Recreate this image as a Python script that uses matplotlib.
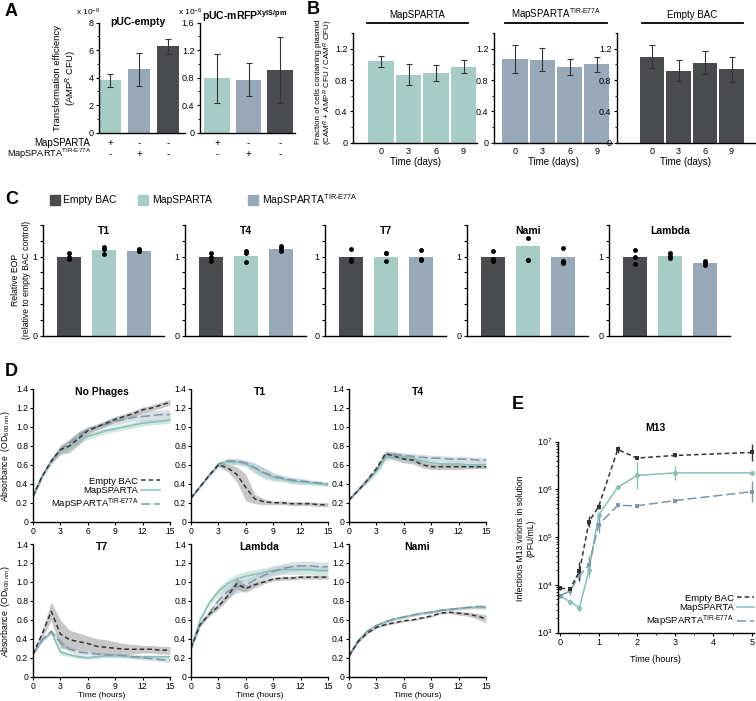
import matplotlib
matplotlib.use("Agg")
import matplotlib.pyplot as plt
import matplotlib.transforms as mtransforms
import numpy as np
from matplotlib.lines import Line2D
from matplotlib.patches import Rectangle
from matplotlib.ticker import LogLocator, MultipleLocator, NullFormatter

W, H = 756, 701

plt.rcParams["font.family"] = ["Liberation Sans", "DejaVu Sans"]
plt.rcParams["font.size"] = 6.5
plt.rcParams["mathtext.fontset"] = "custom"
plt.rcParams["mathtext.rm"] = "Liberation Sans"
plt.rcParams["mathtext.it"] = "Liberation Sans:italic"
plt.rcParams["mathtext.bf"] = "Liberation Sans:bold"
plt.rcParams["axes.linewidth"] = 1.0

TEAL = "#a7ccc6"
SLATE = "#97a9b8"
DARK = "#4a4b4e"
LINE_TEAL = "#86c0b6"
LINE_SLATE = "#7d96ab"
LINE_DARK = "#333333"
ERR = "#333333"
TIR = "MapSPARTA$^{\\mathrm{TIR\u2010E77A}}$"

# ---------- panel A: transformation efficiency (x 1e-6) ----------
A_EMPTY_VALS = [3.8, 4.6, 6.3]
A_EMPTY_ERR = [0.45, 1.2, 0.55]
A_MRFP_VALS = [0.79, 0.77, 0.91]
A_MRFP_ERR = [0.36, 0.24, 0.48]
A_MAP_ROW = ["+", "-", "-"]
A_TIR_ROW = ["-", "+", "-"]

# ---------- panel B: plasmid retention ----------
B_DAYS = ["0", "3", "6", "9"]
B_MAP_VALS = [1.04, 0.87, 0.89, 0.97]
B_MAP_ERR = [0.07, 0.135, 0.10, 0.08]
B_TIR_VALS = [1.07, 1.06, 0.97, 1.00]
B_TIR_ERR = [0.18, 0.15, 0.10, 0.10]
B_EMPTY_VALS = [1.10, 0.92, 1.02, 0.94]
B_EMPTY_ERR = [0.15, 0.135, 0.145, 0.16]

# ---------- panel C: relative EOP ----------
C_PHAGES = ["T1", "T4", "T7", "Nami", "Lambda"]
C_EMPTY_BAR = [1.0, 1.0, 1.0, 1.0, 1.0]
C_MAP_BAR = [1.085, 1.01, 1.0, 1.14, 1.01]
C_TIR_BAR = [1.073, 1.10, 1.0, 1.0, 0.92]
C_EMPTY_DOTS = [[1.047, 1.0, 0.97], [1.04, 1.0, 0.94], [1.10, 0.97, 0.94],
                [1.07, 0.97, 0.95], [1.09, 1.0, 0.91]]
C_MAP_DOTS = [[1.128, 1.098, 1.03], [1.07, 1.04, 0.93], [1.05, 1.04, 0.95],
              [1.24, 0.96, 0.955], [1.05, 1.01, 0.98]]
C_TIR_DOTS = [[1.094, 1.077, 1.07], [1.14, 1.11, 1.07], [1.09, 0.97, 0.96],
              [1.11, 0.94, 0.92], [0.95, 0.93, 0.90]]

# ---------- panel D: growth curves (OD600), hourly ----------
D_TIME = [0, 1, 2, 3, 4, 5, 6, 7, 8, 9, 10, 11, 12, 13, 14, 15]

NOPH_EMPTY = [0.27, 0.48, 0.64, 0.76, 0.80, 0.88, 0.96, 1.00, 1.04, 1.08, 1.11, 1.14, 1.18, 1.20, 1.23, 1.26]
NOPH_EMPTY_SD = [0.02, 0.02, 0.03, 0.05, 0.07, 0.07, 0.04, 0.03, 0.03, 0.03, 0.03, 0.03, 0.03, 0.03, 0.03, 0.03]
NOPH_MAP = [0.27, 0.48, 0.64, 0.75, 0.79, 0.85, 0.90, 0.93, 0.96, 0.98, 1.00, 1.02, 1.04, 1.05, 1.06, 1.07]
NOPH_MAP_SD = [0.02, 0.02, 0.02, 0.03, 0.03, 0.03, 0.03, 0.03, 0.03, 0.03, 0.03, 0.03, 0.03, 0.03, 0.03, 0.03]
NOPH_TIR = [0.27, 0.48, 0.64, 0.76, 0.83, 0.91, 0.97, 1.00, 1.03, 1.06, 1.08, 1.10, 1.11, 1.12, 1.13, 1.13]
NOPH_TIR_SD = [0.02, 0.02, 0.02, 0.03, 0.04, 0.04, 0.03, 0.03, 0.03, 0.04, 0.04, 0.04, 0.05, 0.05, 0.05, 0.05]

T1_EMPTY = [0.25, 0.37, 0.49, 0.60, 0.57, 0.50, 0.36, 0.24, 0.21, 0.20, 0.20, 0.19, 0.19, 0.19, 0.18, 0.18]
T1_EMPTY_SD = [0.01, 0.01, 0.01, 0.02, 0.04, 0.08, 0.14, 0.05, 0.03, 0.02, 0.02, 0.02, 0.02, 0.02, 0.02, 0.02]
T1_MAP = [0.25, 0.37, 0.49, 0.60, 0.63, 0.63, 0.61, 0.56, 0.51, 0.47, 0.45, 0.43, 0.42, 0.41, 0.40, 0.39]
T1_MAP_SD = [0.01, 0.01, 0.01, 0.02, 0.03, 0.03, 0.03, 0.05, 0.06, 0.04, 0.03, 0.03, 0.03, 0.02, 0.02, 0.02]
T1_TIR = [0.25, 0.37, 0.49, 0.61, 0.64, 0.64, 0.62, 0.57, 0.52, 0.48, 0.46, 0.44, 0.43, 0.42, 0.41, 0.40]
T1_TIR_SD = [0.01, 0.01, 0.01, 0.02, 0.03, 0.03, 0.03, 0.05, 0.05, 0.04, 0.03, 0.03, 0.03, 0.02, 0.02, 0.02]

T4_EMPTY = [0.23, 0.33, 0.44, 0.56, 0.72, 0.69, 0.66, 0.65, 0.60, 0.58, 0.58, 0.58, 0.58, 0.58, 0.58, 0.58]
T4_EMPTY_SD = [0.01, 0.01, 0.02, 0.02, 0.03, 0.04, 0.04, 0.04, 0.03, 0.03, 0.03, 0.03, 0.03, 0.02, 0.02, 0.02]
T4_MAP = [0.23, 0.33, 0.43, 0.53, 0.67, 0.69, 0.68, 0.66, 0.64, 0.62, 0.61, 0.61, 0.61, 0.60, 0.60, 0.60]
T4_MAP_SD = [0.01, 0.01, 0.02, 0.03, 0.03, 0.03, 0.03, 0.03, 0.03, 0.03, 0.03, 0.03, 0.03, 0.03, 0.03, 0.03]
T4_TIR = [0.23, 0.33, 0.44, 0.55, 0.70, 0.71, 0.70, 0.69, 0.68, 0.67, 0.67, 0.66, 0.66, 0.66, 0.65, 0.65]
T4_TIR_SD = [0.01, 0.01, 0.02, 0.02, 0.03, 0.03, 0.03, 0.03, 0.03, 0.03, 0.03, 0.03, 0.03, 0.03, 0.03, 0.03]

T7_EMPTY = [0.24, 0.45, 0.69, 0.45, 0.39, 0.37, 0.35, 0.32, 0.31, 0.30, 0.29, 0.29, 0.29, 0.29, 0.28, 0.28]
T7_EMPTY_SD = [0.01, 0.04, 0.10, 0.15, 0.10, 0.09, 0.08, 0.08, 0.08, 0.07, 0.06, 0.05, 0.04, 0.04, 0.04, 0.04]
T7_MAP = [0.24, 0.38, 0.47, 0.26, 0.23, 0.21, 0.20, 0.21, 0.22, 0.22, 0.22, 0.21, 0.21, 0.21, 0.21, 0.21]
T7_MAP_SD = [0.01, 0.02, 0.02, 0.03, 0.02, 0.02, 0.02, 0.02, 0.02, 0.02, 0.02, 0.02, 0.02, 0.02, 0.02, 0.02]
T7_TIR = [0.24, 0.39, 0.48, 0.36, 0.29, 0.26, 0.25, 0.24, 0.23, 0.23, 0.22, 0.21, 0.20, 0.19, 0.18, 0.17]
T7_TIR_SD = [0.01, 0.02, 0.02, 0.04, 0.03, 0.03, 0.02, 0.02, 0.02, 0.02, 0.02, 0.02, 0.02, 0.02, 0.02, 0.02]

LAM_EMPTY = [0.30, 0.55, 0.66, 0.74, 0.85, 0.98, 0.93, 0.97, 1.00, 1.03, 1.04, 1.04, 1.05, 1.05, 1.05, 1.05]
LAM_EMPTY_SD = [0.01, 0.02, 0.02, 0.03, 0.04, 0.06, 0.04, 0.03, 0.02, 0.02, 0.02, 0.02, 0.02, 0.02, 0.02, 0.02]
LAM_MAP = [0.30, 0.60, 0.78, 0.90, 0.98, 1.03, 1.06, 1.08, 1.10, 1.12, 1.13, 1.13, 1.13, 1.13, 1.12, 1.12]
LAM_MAP_SD = [0.01, 0.02, 0.03, 0.04, 0.05, 0.05, 0.05, 0.05, 0.05, 0.05, 0.05, 0.05, 0.05, 0.05, 0.05, 0.05]
LAM_TIR = [0.30, 0.55, 0.67, 0.80, 0.90, 0.95, 0.97, 1.02, 1.07, 1.11, 1.14, 1.16, 1.17, 1.17, 1.16, 1.16]
LAM_TIR_SD = [0.01, 0.02, 0.03, 0.05, 0.07, 0.07, 0.06, 0.05, 0.05, 0.05, 0.05, 0.05, 0.05, 0.05, 0.05, 0.05]

NAMI_EMPTY = [0.22, 0.37, 0.46, 0.52, 0.55, 0.57, 0.59, 0.60, 0.62, 0.64, 0.67, 0.68, 0.67, 0.66, 0.64, 0.61]
NAMI_EMPTY_SD = [0.01, 0.01, 0.01, 0.01, 0.01, 0.01, 0.01, 0.01, 0.01, 0.01, 0.01, 0.01, 0.02, 0.02, 0.03, 0.04]
NAMI_MAP = [0.22, 0.38, 0.48, 0.54, 0.58, 0.61, 0.63, 0.65, 0.67, 0.68, 0.70, 0.71, 0.72, 0.73, 0.73, 0.73]
NAMI_MAP_SD = [0.015, 0.015, 0.015, 0.015, 0.015, 0.015, 0.015, 0.015, 0.015, 0.015, 0.015, 0.015, 0.015, 0.015, 0.015, 0.015]
NAMI_TIR = [0.22, 0.38, 0.48, 0.54, 0.58, 0.61, 0.63, 0.65, 0.67, 0.68, 0.70, 0.71, 0.72, 0.73, 0.74, 0.74]
NAMI_TIR_SD = [0.015, 0.015, 0.015, 0.015, 0.015, 0.015, 0.015, 0.015, 0.015, 0.015, 0.015, 0.015, 0.015, 0.015, 0.015, 0.015]

D_TITLES = ["No Phages", "T1", "T4", "T7", "Lambda", "Nami"]

# ---------- panel E: M13 titres (PFU/mL), error as log10 half-width ----------
E_TIME = [0, 0.25, 0.5, 0.75, 1, 1.5, 2, 3, 5]
E_EMPTY = [8.5e3, 8.1e3, 1.9e4, 2.1e5, 4.3e5, 6.8e6, 4.5e6, 5.1e6, 5.9e6]
E_EMPTY_ERR = [0.04, 0.04, 0.20, 0.12, 0.04, 0.07, 0.03, 0.03, 0.17]
E_MAP = [5.9e3, 4.4e3, 3.3e3, 2.0e4, 2.9e5, 1.1e6, 1.95e6, 2.2e6, 2.2e6]
E_MAP_ERR = [0.03, 0.06, 0.06, 0.13, 0.07, 0.02, 0.28, 0.15, 0.05]
E_TIR = [5.9e3, 7.4e3, 1.55e4, 2.6e4, 1.8e5, 4.6e5, 4.5e5, 5.8e5, 8.9e5]
E_TIR_ERR = [0.03, 0.08, 0.10, 0.19, 0.18, 0.03, 0.04, 0.02, 0.22]


fig = plt.figure(figsize=(W / 100, H / 100), dpi=100)


def px_ax(l, t, r, b):
    return fig.add_axes([l / W, 1 - b / H, (r - l) / W, (b - t) / H])


def ftext(x, y, s, **kw):
    kw.setdefault("ha", "center")
    kw.setdefault("va", "center")
    return fig.text(x / W, 1 - y / H, s, **kw)


def clean(ax):
    ax.spines["top"].set_visible(False)
    ax.spines["right"].set_visible(False)
    ax.tick_params(length=2.5, width=0.8, pad=1.5, labelsize=6.5)
    ax.tick_params(which="minor", length=1.5, width=0.6)


def bar_xlim(ax, left, right, c0, step):
    ax.set_xlim((left - c0) / step, (right - c0) / step)


# ---------- A ----------
ftext(5, 12, "A", ha="left", fontsize=13, fontweight="bold")
a_panels = [
    (99, 185, 110, 29, 0.76, A_EMPTY_VALS, A_EMPTY_ERR, 8, 2, "pUC-empty", (138, 22), 88),
    (200, 295, 217, 31.5, 0.82, A_MRFP_VALS, A_MRFP_ERR, 1.6, 0.4,
     r"pUC-mRFP$^{\mathbf{XylS/pm}}$", (245, 16), 190),
]
for l, r, c0, step, bw, vals, errs, top, major, title, tpos, expx in a_panels:
    ax = px_ax(l, 22.7, r, 132.7)
    clean(ax)
    x = np.arange(len(vals))
    ax.bar(x, vals, width=bw, color=[TEAL, SLATE, DARK])
    ax.errorbar(x, vals, yerr=errs, fmt="none", ecolor=ERR, elinewidth=0.8, capsize=2, capthick=0.8)
    ax.set_ylim(0, top)
    ticks = np.arange(0, top + major / 2, major)
    ax.set_yticks(ticks)
    ax.set_yticklabels(["0"] + [f"{t:g}" for t in ticks[1:]])
    ax.yaxis.set_minor_locator(MultipleLocator(major / 2))
    ax.set_xticks([])
    bar_xlim(ax, l, r, c0, step)
    ftext(tpos[0], tpos[1], title, fontsize=7.5, fontweight="bold")
    ftext(expx, 12, r"x 10$^{-6}$", fontsize=6)
    tr = mtransforms.blended_transform_factory(ax.transData, fig.transFigure)
    for i in x:
        ax.text(i, 1 - 142.7 / H, A_MAP_ROW[i], transform=tr, ha="center", va="center", fontsize=7)
        ax.text(i, 1 - 154 / H, A_TIR_ROW[i], transform=tr, ha="center", va="center", fontsize=7)
ftext(90, 142.7, "MapSPARTA", ha="right", fontsize=7)
ftext(91, 154, TIR, ha="right", fontsize=6.6)
ftext(66, 78, "Transformation efficiency\n(AMP$^R$ CFU)", rotation=90, fontsize=6.8, linespacing=1.1)

# ---------- B ----------
ftext(307, 10, "B", ha="left", fontsize=13, fontweight="bold")
b_panels = [
    (353, 477, 381, 27.5, B_MAP_VALS, B_MAP_ERR, TEAL, "MapSPARTA", (367, 468)),
    (494, 612, 515, 27.3, B_TIR_VALS, B_TIR_ERR, SLATE, TIR, (505, 607)),
    (617, 755, 652, 26.5, B_EMPTY_VALS, B_EMPTY_ERR, DARK, "Empty BAC", (642, 743)),
]
for l, r, c0, step, vals, errs, col, title, (hl, hr) in b_panels:
    ax = px_ax(l, 33, r, 142.7)
    clean(ax)
    x = np.arange(len(vals))
    ax.bar(x, vals, width=0.92, color=col)
    ax.errorbar(x, vals, yerr=errs, fmt="none", ecolor=ERR, elinewidth=0.8, capsize=2, capthick=0.8)
    ax.set_ylim(0, 1.4)
    ax.set_yticks([0, 0.4, 0.8, 1.2])
    ax.set_yticklabels(["0", "0.4", "0.8", "1.2"])
    ax.yaxis.set_minor_locator(MultipleLocator(0.2))
    ax.set_xticks(x)
    ax.set_xticklabels(B_DAYS)
    ax.tick_params(axis="x", length=0, pad=3)
    ax.set_xlabel("Time (days)", fontsize=7, labelpad=0.5)
    bar_xlim(ax, l, r, c0, step)
    fig.add_artist(Line2D([hl / W, hr / W], [1 - 22.7 / H, 1 - 22.7 / H], color="black", lw=1.3))
    ftext((hl + hr) / 2, 14.5, title, fontsize=7)
ftext(325, 82, "Fraction of cells containing plasmid\n(CAM$^R$ + AMP$^R$ CFU / CAM$^R$ CFU)",
      rotation=90, fontsize=5.8, linespacing=1.05)

# ---------- C ----------
ftext(5, 199, "C", ha="left", fontsize=13, fontweight="bold")
for (sx, tx), col, lab in zip([(50, 63), (138, 152), (248, 262)], [DARK, TEAL, SLATE],
                              ["Empty BAC", "MapSPARTA", TIR]):
    fig.add_artist(Rectangle((sx / W, 1 - 205 / H), 10 / W, 10 / H, color=col, transform=fig.transFigure))
    ftext(tx, 200, lab, ha="left", fontsize=7.5)

c_lefts = [43, 185, 325, 467, 609]
for k, l in enumerate(c_lefts):
    ax = px_ax(l, 225, l + 120.75, 335.7)
    clean(ax)
    x = np.arange(3)
    ax.bar(x, [C_EMPTY_BAR[k], C_MAP_BAR[k], C_TIR_BAR[k]], width=0.69, color=[DARK, TEAL, SLATE])
    for i, dots in enumerate([C_EMPTY_DOTS[k], C_MAP_DOTS[k], C_TIR_DOTS[k]]):
        ax.plot([i] * len(dots), dots, "o", color="black", ms=3.5, mew=0)
    ax.set_ylim(0, 1.4)
    ax.set_yticks(np.arange(0, 1.41, 0.2))
    ax.set_yticklabels(["0", "", "", "", "", "1", "", ""])
    ax.set_xticks([])
    ax.set_xlim(-0.75, 2.7)
    tr = mtransforms.blended_transform_factory(ax.transData, fig.transFigure)
    ax.text(1, 1 - 231 / H, C_PHAGES[k], transform=tr, ha="center", va="center",
            fontsize=7.5, fontweight="bold")
ftext(21, 280, "Relative EOP\n(relative to empty BAC control)", rotation=90, fontsize=6.2, linespacing=1.15)

# ---------- D ----------
ftext(5, 371, "D", ha="left", fontsize=13, fontweight="bold")
d_series = [
    (NOPH_EMPTY, NOPH_EMPTY_SD, NOPH_MAP, NOPH_MAP_SD, NOPH_TIR, NOPH_TIR_SD),
    (T1_EMPTY, T1_EMPTY_SD, T1_MAP, T1_MAP_SD, T1_TIR, T1_TIR_SD),
    (T4_EMPTY, T4_EMPTY_SD, T4_MAP, T4_MAP_SD, T4_TIR, T4_TIR_SD),
    (T7_EMPTY, T7_EMPTY_SD, T7_MAP, T7_MAP_SD, T7_TIR, T7_TIR_SD),
    (LAM_EMPTY, LAM_EMPTY_SD, LAM_MAP, LAM_MAP_SD, LAM_TIR, LAM_TIR_SD),
    (NAMI_EMPTY, NAMI_EMPTY_SD, NAMI_MAP, NAMI_MAP_SD, NAMI_TIR, NAMI_TIR_SD),
]
d_lefts = [33, 191, 349]
d_rows = [(389, 521.7), (544, 676.7)]
t = np.array(D_TIME)
for k, (emp, emp_sd, mp, mp_sd, tir, tir_sd) in enumerate(d_series):
    top, bot = d_rows[k // 3]
    l = d_lefts[k % 3]
    ax = px_ax(l, top, l + 137, bot)
    clean(ax)
    ax.tick_params(labelsize=6.2, pad=1)
    emp, emp_sd, mp, mp_sd, tir, tir_sd = map(np.array, (emp, emp_sd, mp, mp_sd, tir, tir_sd))
    ax.fill_between(t, mp - mp_sd, mp + mp_sd, color="#b4d8d1", alpha=0.6, lw=0)
    ax.fill_between(t, tir - tir_sd, tir + tir_sd, color="#b3c2cf", alpha=0.5, lw=0)
    ax.fill_between(t, emp - emp_sd, emp + emp_sd, color="#9a9a9a", alpha=0.55, lw=0)
    ax.plot(t, mp, color=LINE_TEAL, lw=1.1, label="MapSPARTA")
    ax.plot(t, tir, color=LINE_SLATE, lw=1.1, dashes=(6, 2.5), label=TIR)
    ax.plot(t, emp, color=LINE_DARK, lw=1.1, dashes=(3, 2), label="Empty BAC")
    ax.set_xlim(0, 15)
    ax.set_ylim(0, 1.4)
    ax.set_xticks([0, 3, 6, 9, 12, 15])
    ax.set_yticks(np.arange(0, 1.41, 0.2))
    ax.set_yticklabels(["0", "0.2", "0.4", "0.6", "0.8", "1.0", "1.2", "1.4"])
    ax.text(0.5, 0.975, D_TITLES[k], transform=ax.transAxes, ha="center", va="center",
            fontsize=7.5, fontweight="bold")
    if k >= 3:
        ax.set_xlabel("Time (hours)", fontsize=6, labelpad=1)
    if k == 0:
        handles = [Line2D([], [], color=LINE_DARK, lw=1.1, dashes=(3, 2)),
                   Line2D([], [], color=LINE_TEAL, lw=1.1),
                   Line2D([], [], color=LINE_SLATE, lw=1.1, dashes=(6, 2.5))]
        ax.legend(handles, ["Empty BAC", "MapSPARTA", TIR], loc="lower right",
                  bbox_to_anchor=(160 / W, 1 - 511 / H), bbox_transform=fig.transFigure,
                  frameon=False, markerfirst=False, fontsize=6.8, handlelength=2.0,
                  handletextpad=0.3, labelspacing=0.1, borderpad=0, borderaxespad=0)
ftext(6, 456, r"Absorbance  (OD$_{600\ nm}$)", rotation=90, fontsize=6.2)
ftext(6, 611, r"Absorbance  (OD$_{600\ nm}$)", rotation=90, fontsize=6.2)

# ---------- E ----------
ftext(512, 405, "E", ha="left", fontsize=13, fontweight="bold")
ax = px_ax(558, 441.5, 753.6, 632.5)
clean(ax)
ax.set_yscale("log")
for vals, errs, col, mk, dash in [(E_MAP, E_MAP_ERR, LINE_TEAL, "o", None),
                                   (E_TIR, E_TIR_ERR, LINE_SLATE, "s", (6, 2.5)),
                                   (E_EMPTY, E_EMPTY_ERR, LINE_DARK, "s", (3, 2))]:
    v = np.array(vals)
    e = np.array(errs)
    lo = v - v / 10 ** e
    hi = v * 10 ** e - v
    cont = ax.errorbar(E_TIME, v, yerr=[lo, hi], color=col, marker=mk, ms=3.5, mew=0,
                       lw=1.1, elinewidth=1.0, capsize=2, capthick=1.0)
    if dash is not None:
        cont.lines[0].set_dashes(dash)
ax.set_xlim(-0.06, 5.05)
ax.set_ylim(1e3, 1e7)
ax.set_xticks([0, 1, 2, 3, 4, 5])
ax.xaxis.set_minor_locator(MultipleLocator(0.5))
ax.yaxis.set_major_locator(LogLocator(base=10, numticks=10))
ax.yaxis.set_minor_locator(LogLocator(base=10, subs=np.arange(2, 10), numticks=20))
ax.yaxis.set_minor_formatter(NullFormatter())
ax.set_xlabel("Time (hours)", fontsize=6.5, labelpad=6)
ax.text(0.5, 1.07, "M13", transform=ax.transAxes, ha="center", va="center",
        fontsize=7.5, fontweight="bold")
handles = [Line2D([], [], color=LINE_DARK, lw=1.1, dashes=(3, 2)),
           Line2D([], [], color=LINE_TEAL, lw=1.1),
           Line2D([], [], color=LINE_SLATE, lw=1.1, dashes=(6, 2.5))]
ax.legend(handles, ["Empty BAC", "MapSPARTA", TIR], loc="lower right",
          bbox_to_anchor=(754 / W, 1 - 628 / H), bbox_transform=fig.transFigure,
          frameon=False, markerfirst=False, fontsize=6.8, handlelength=1.8,
          handletextpad=0.3, labelspacing=0.1, borderpad=0, borderaxespad=0)
ftext(526, 538, "Infectious M13 virions in solution\n(PFU/mL)", rotation=90, fontsize=6.2, linespacing=1.15)

fig.savefig("out.png", dpi=100)
